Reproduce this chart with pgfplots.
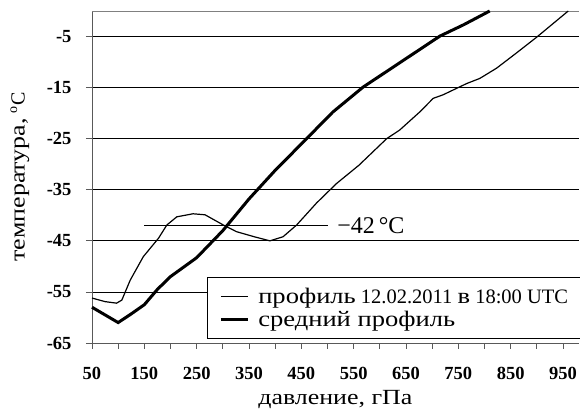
\documentclass[border=0pt]{standalone}
\usepackage{fontspec}
\setmainfont{Liberation Serif}
\newfontfamily\cyr{Liberation Serif}[FakeStretch=1.2, Scale=1.08]
\usepackage{pgfplots}
\pgfplotsset{compat=1.18}
\begin{document}
\begin{tikzpicture}[x=1pt,y=1pt]
\begin{axis}[
  at={(92pt,71pt)}, anchor=south west,
  scale only axis, width=486.7pt, height=332pt,
  xmin=50, xmax=980, ymin=-65, ymax=0,
  axis x line*=bottom, axis y line*=left,
  axis line style={gray!70!black, line width=0.8pt},
  xtick={50,100,...,950},
  xticklabels={50,,150,,250,,350,,450,,550,,650,,750,,850,,950},
  ytick={-65,-55,-45,-35,-25,-15,-5},
  yticklabels={-65,-55,-45,-35,-25,-15,-5},
  extra y ticks={0}, extra y tick labels={},
  extra y tick style={grid=major, major tick length=0pt, grid style={gray, line width=0.8pt}},
  ymajorgrids, grid style={black, line width=0.8pt},
  tick align=outside, major tick length=6pt,
  tick style={gray!70!black, line width=0.8pt},
  ticklabel style={font=\fontsize{18.5}{18.5}\selectfont\bfseries},
  xticklabel style={yshift=-15pt},
  yticklabel style={xshift=-11pt},
  xlabel={\cyr давление, гПа},
  ylabel={{\cyr температура,} \textsuperscript{o}C},
  label style={font=\fontsize{20}{20}\selectfont},
  xlabel style={at={(rel axis cs:0.5,0)}, anchor=center, yshift=-57pt},
  ylabel style={at={(rel axis cs:-0.148,0.5)}, anchor=center},
  legend style={at={(rel axis cs:0.236,0.199)}, anchor=north west,
    draw=black, line width=0.8pt, font=\fontsize{20.5}{21}\selectfont,
    inner xsep=12pt, inner ysep=8.5pt, row sep=2pt, cells={anchor=west}},
  legend image code/.code={\draw[#1] (0pt,0pt) -- (27pt,0pt); \path (34pt,0pt);},
  clip=false,
]
\addplot[black, line width=1.2pt] coordinates {
(50,-56.2) (75,-56.9) (97,-57.2) (107,-56.6) (123,-52.7) (148,-48.1)
(177,-44.5) (193,-41.9) (212,-40.3) (243,-39.7) (266,-39.9) (301,-41.9)
(326,-43.2) (360,-44.2) (390,-45) (415,-44.2) (441,-41.9) (479,-37.6)
(517,-33.8) (560,-30.2) (613,-25) (638,-23.3) (677,-19.7) (702,-17.1)
(721,-16.4) (766,-14.2) (791,-13.2) (823,-11.2) (860,-8.3) (900,-5.1) (960,0)
};
\addlegendentry{{\cyr профиль} 12.02.2011 {\cyr в} 18:00 UTC\hspace*{20pt}}
\addplot[black, line width=3pt] coordinates {
(50,-58) (75,-59.5) (100,-61) (125,-59.3) (150,-57.5) (175,-54.5)
(200,-52) (250,-48.3) (300,-43) (350,-36.8) (400,-31.2) (460,-25)
(510,-19.8) (568,-14.9) (640,-10) (715,-4.9) (760,-2.7) (810,0)
};
\addlegendentry{\cyr средний профиль}
\addplot[black, line width=1.2pt, forget plot] coordinates {(150,-42) (500,-42)};
\node[anchor=west, font=\fontsize{24}{24}\selectfont] at (axis cs:512,-42) {−42\,°C};
\end{axis}
\pgfresetboundingbox
\useasboundingbox (0,0) rectangle (580,414);
\end{tikzpicture}
\end{document}
